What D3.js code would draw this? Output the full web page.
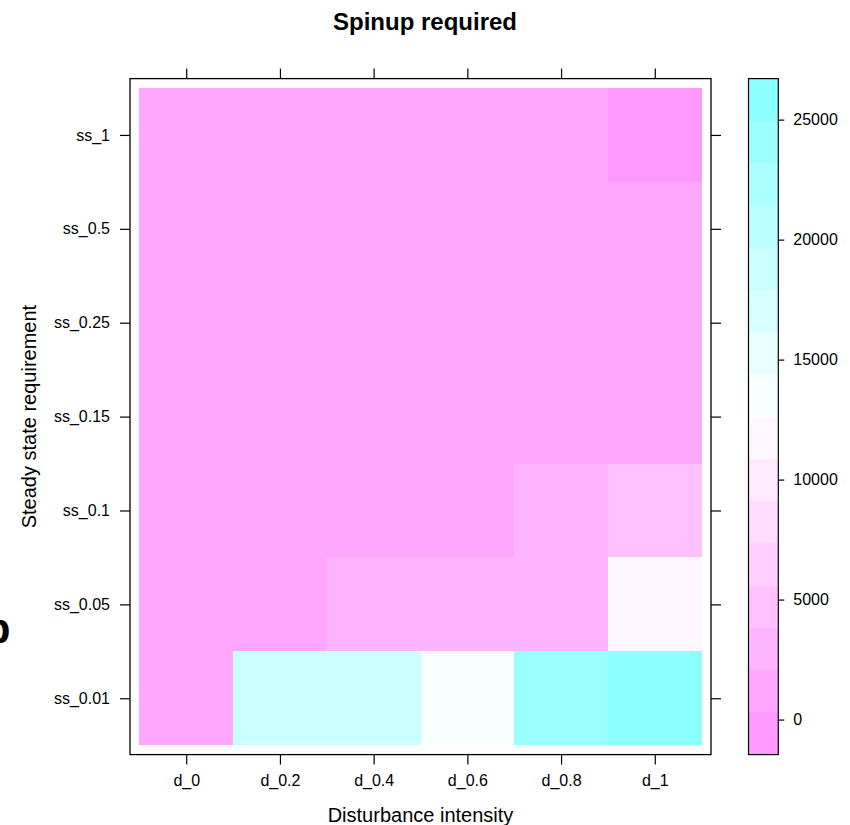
<!DOCTYPE html>
<html>
<head>
<meta charset="utf-8">
<script src="https://cdn.jsdelivr.net/npm/d3@7"></script>
<style>
  html, body { margin: 0; padding: 0; background: #fff; }
  svg { display: block; font-family: "Liberation Sans", Arial, Helvetica, sans-serif; }
  .axis path.domain { display: none; }
  .axis line { stroke: #000; stroke-width: 1.2; }
  .axis text { fill: #000; font-size: 16px; }
</style>
</head>
<body>
<svg id="chart" width="850" height="825"></svg>
<script>
// Disturbance intensity levels (columns) and steady-state thresholds (rows, bottom to top)
const disturbance = ["d_0", "d_0.2", "d_0.4", "d_0.6", "d_0.8", "d_1"];
const steadyState = ["ss_0.01", "ss_0.05", "ss_0.1", "ss_0.15", "ss_0.25", "ss_0.5", "ss_1"];

// Spinup years required, one array per steady-state threshold, ordered by disturbance
const spinup_ss_0_01 = [1900, 18800, 18900, 13500, 24000, 24980];
const spinup_ss_0_05 = [1700, 1950, 2700, 3000, 3500, 11800];
const spinup_ss_0_1  = [1300, 1400, 1500, 1700, 2500, 4500];
const spinup_ss_0_15 = [1200, 1250, 1350, 1450, 1650, 1900];
const spinup_ss_0_25 = [1100, 1150, 1200, 1300, 1450, 1700];
const spinup_ss_0_5  = [1000, 1050, 1100, 1200, 1300, 1500];
const spinup_ss_1    = [900, 950, 1000, 1050, 1100, 270];

const spinupRows = [spinup_ss_0_01, spinup_ss_0_05, spinup_ss_0_1, spinup_ss_0_15,
                    spinup_ss_0_25, spinup_ss_0_5, spinup_ss_1];

// Colour key tick values
const keyTicks = [0, 5000, 10000, 15000, 20000, 25000];

const nBands = 16;

// Flatten into cells
const cells = [];
spinupRows.forEach((row, j) => row.forEach((v, i) => cells.push({ xi: i + 1, yi: j + 1, v })));

const svg = d3.select("#chart");

// Panel geometry
const panel = { left: 130, right: 711, top: 78.6, bottom: 754.6 };

const x = d3.scaleLinear().domain([0.4, disturbance.length + 0.6]).range([panel.left, panel.right]);
const y = d3.scaleLinear().domain([0.4, steadyState.length + 0.6]).range([panel.bottom, panel.top]);

// Colour levels: data range padded by 7% on both sides, cut into equal bands
const [zmin, zmax] = d3.extent(cells, d => d.v);
const pad = 0.07 * (zmax - zmin);
const zlo = zmin - pad, zhi = zmax + pad;
const breaks = d3.range(nBands + 1).map(k => zlo + k * (zhi - zlo) / nBands);

// Magenta (low) through white to cyan (high)
const palette = d3.range(nBands).map(i => {
  if (i < nBands / 2) {
    const g = Math.round(153 + (247 - 153) * i / (nBands / 2 - 1));
    return d3.rgb(255, g, 255).formatHex();
  }
  const r = Math.round(247 - (247 - 140) * (i - nBands / 2) / (nBands / 2 - 1));
  return d3.rgb(r, 255, 255).formatHex();
});
const color = d3.scaleThreshold().domain(breaks.slice(1, -1)).range(palette);

// Heatmap cells
svg.append("g")
  .selectAll("rect")
  .data(cells)
  .join("rect")
  .attr("x", d => x(d.xi - 0.5))
  .attr("y", d => y(d.yi + 0.5))
  .attr("width", d => x(d.xi + 0.5) - x(d.xi - 0.5))
  .attr("height", d => y(d.yi - 0.5) - y(d.yi + 0.5))
  .attr("fill", d => color(d.v))
  .attr("shape-rendering", "crispEdges");

// Axes: labels on bottom and left, plain ticks on top and right
const xIdx = disturbance.map((_, i) => i + 1);
const yIdx = steadyState.map((_, i) => i + 1);

svg.append("g").attr("class", "axis")
  .attr("transform", `translate(0,${panel.bottom})`)
  .call(d3.axisBottom(x).tickValues(xIdx).tickFormat(i => disturbance[i - 1]).tickSize(10).tickPadding(10));

svg.append("g").attr("class", "axis")
  .attr("transform", `translate(0,${panel.top})`)
  .call(d3.axisTop(x).tickValues(xIdx).tickFormat("").tickSize(10));

svg.append("g").attr("class", "axis")
  .attr("transform", `translate(${panel.left},0)`)
  .call(d3.axisLeft(y).tickValues(yIdx).tickFormat(i => steadyState[i - 1]).tickSize(10).tickPadding(10));

svg.append("g").attr("class", "axis")
  .attr("transform", `translate(${panel.right},0)`)
  .call(d3.axisRight(y).tickValues(yIdx).tickFormat("").tickSize(10));

// Panel border
svg.append("rect")
  .attr("x", panel.left).attr("y", panel.top)
  .attr("width", panel.right - panel.left).attr("height", panel.bottom - panel.top)
  .attr("fill", "none").attr("stroke", "#000").attr("stroke-width", 1.3);

// Colour key
const key = { left: 748.5, right: 778.3 };
const z = d3.scaleLinear().domain([zlo, zhi]).range([panel.bottom, panel.top]);

svg.append("g")
  .selectAll("rect")
  .data(d3.range(nBands))
  .join("rect")
  .attr("x", key.left)
  .attr("width", key.right - key.left)
  .attr("y", k => z(breaks[k + 1]))
  .attr("height", k => z(breaks[k]) - z(breaks[k + 1]))
  .attr("fill", k => palette[k])
  .attr("shape-rendering", "crispEdges");

svg.append("rect")
  .attr("x", key.left).attr("y", panel.top)
  .attr("width", key.right - key.left).attr("height", panel.bottom - panel.top)
  .attr("fill", "none").attr("stroke", "#000").attr("stroke-width", 1.2);

svg.append("g").attr("class", "axis")
  .attr("transform", `translate(${key.right},0)`)
  .call(d3.axisRight(z).tickValues(keyTicks).tickFormat(d3.format("d")).tickSize(6).tickPadding(9));

// Titles
svg.append("text")
  .attr("x", 425).attr("y", 29.5)
  .attr("text-anchor", "middle")
  .attr("font-size", 24).attr("font-weight", "bold")
  .text("Spinup required");

svg.append("text")
  .attr("x", (panel.left + panel.right) / 2).attr("y", 822)
  .attr("text-anchor", "middle")
  .attr("font-size", 20)
  .text("Disturbance intensity");

svg.append("text")
  .attr("transform", `translate(36,${(panel.top + panel.bottom) / 2}) rotate(-90)`)
  .attr("text-anchor", "middle")
  .attr("font-size", 20)
  .text("Steady state requirement");

// Panel letter at the left edge
svg.append("text")
  .attr("x", 10.5).attr("y", 643)
  .attr("text-anchor", "end")
  .attr("font-size", 42).attr("font-weight", "bold")
  .text("b");
</script>
</body>
</html>
